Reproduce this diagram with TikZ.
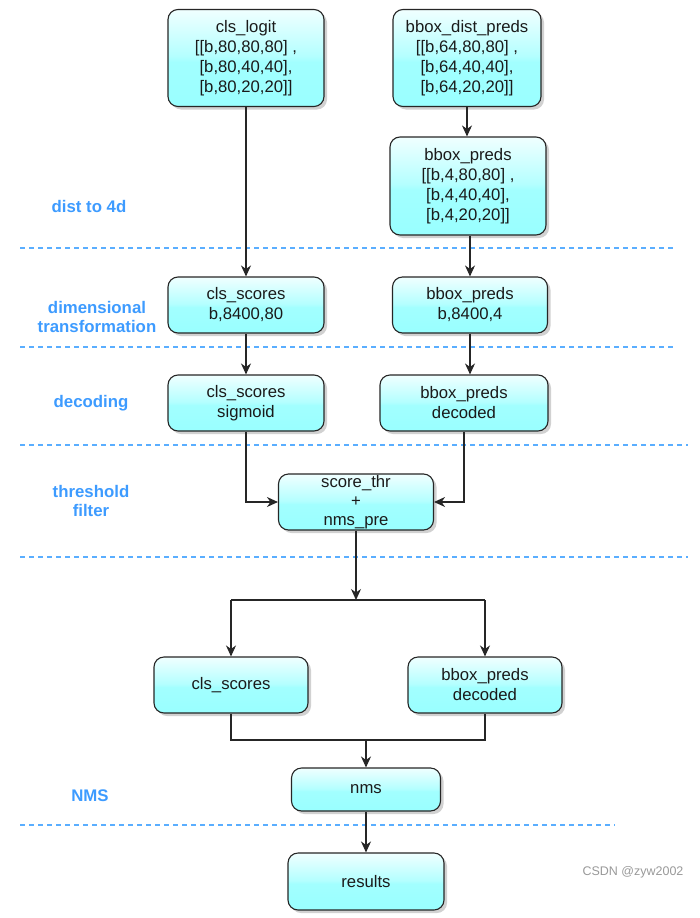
\documentclass[tikz,border=0pt]{standalone}
\usepackage{fontspec}
\setmainfont{Liberation Sans}
\usetikzlibrary{arrows.meta,shadows,positioning}
\definecolor{glT}{HTML}{F0FFFF}
\definecolor{glM}{HTML}{B4FFFF}
\definecolor{glB2}{HTML}{A2FFFF}
\definecolor{glB}{HTML}{99FFFF}
\definecolor{lblblue}{HTML}{3D9BFF}
\definecolor{dashblue}{HTML}{5AAEFF}
\definecolor{txtdark}{HTML}{1A1A1A}
\pgfdeclareverticalshading{glass}{100bp}{color(0bp)=(glB); color(25bp)=(glB); color(48bp)=(glB2); color(51bp)=(glM); color(75bp)=(glT); color(100bp)=(glT)}
\tikzset{
  box/.style={draw=black!85, line width=1.1pt, rounded corners=10pt, shading=glass,
    drop shadow={shadow xshift=3pt, shadow yshift=-3pt, opacity=0.3, fill=black!60},
    align=center, text=txtdark, font=\fontsize{16.7}{20}\selectfont, inner sep=2pt},
  lbl/.style={text=lblblue, font=\bfseries\fontsize{16.8}{19.5}\selectfont, align=center},
  sep/.style={dashblue, line width=1.2pt, dash pattern=on 5pt off 4pt},
  conn/.style={black!85, line width=1.1pt},
  arr/.style={conn, -{Stealth[length=11pt, width=10pt, inset=3.5pt]}},
}
\begin{document}
\begin{tikzpicture}[x=1pt, y=-1pt]
\useasboundingbox (0,0) rectangle (699,918);

% separators
\draw[sep] (20,248) -- (675,248);
\draw[sep] (20,347) -- (675,347);
\draw[sep] (20,445) -- (688,445);
\draw[sep] (20,557) -- (688,557);
\draw[sep] (20,825) -- (615,825);

% labels
\node[lbl] (l1) at (89,206) {dist to 4d};
\node[lbl] (l2) at (97,317) {dimensional\\transformation};
\node[lbl] (l3) at (91,403) {decoding};
\node[lbl] (l4) at (91,501) {threshold\\filter};
\node[lbl] (l5) at (90,796) {NMS};

% boxes
\node[box, minimum width=156pt, minimum height=97pt] (clslogit) at (246,58) {cls\_logit\\{}[[b,80,80,80] ,\\{}[b,80,40,40],\\{}[b,80,20,20]]};
\node[box, minimum width=148pt, minimum height=97pt] (dist) at (467,58) {bbox\_dist\_preds\\{}[[b,64,80,80] ,\\{}[b,64,40,40],\\{}[b,64,20,20]]};
\node[box, minimum width=156pt, minimum height=98pt] (p4) at (468,186) {bbox\_preds\\{}[[b,4,80,80] ,\\{}[b,4,40,40],\\{}[b,4,20,20]]};
\node[box, minimum width=156pt, minimum height=56pt] (cs1) at (246,305) {cls\_scores\\b,8400,80};
\node[box, minimum width=155pt, minimum height=56pt] (bp1) at (470,305) {bbox\_preds\\b,8400,4};
\node[box, minimum width=156pt, minimum height=56pt] (cs2) at (246,403) {cls\_scores\\sigmoid};
\node[box, minimum width=168pt, minimum height=56pt] (bp2) at (464,403) {bbox\_preds\\decoded};
\node[box, minimum width=155pt, minimum height=56pt, inner sep=0pt, font=\fontsize{16.7}{19}\selectfont] (thr) at (356,502) {score\_thr\\+\\nms\_pre};
\node[box, minimum width=154pt, minimum height=56pt] (cs3) at (231,685) {cls\_scores};
\node[box, minimum width=154pt, minimum height=56pt] (bp3) at (485,685) {bbox\_preds\\decoded};
\node[box, minimum width=149pt, minimum height=43pt] (nms) at (366,789.5) {nms};
\node[box, minimum width=156pt, minimum height=57pt] (res) at (366,881.5) {results};

% watermark
\node[text=black!40, font=\fontsize{12.5}{14}\selectfont] (wm) at (633,872) {CSDN @zyw2002};

% connectors
\draw[arr] (clslogit.south) -- (cs1.north);
\draw[arr] (dist.south) -- (dist.south |- p4.north);
\draw[arr] (bp1.north |- p4.south) -- (bp1.north);
\draw[arr] (cs1.south) -- (cs2.north);
\draw[arr] (bp1.south) -- (bp1.south |- bp2.north);
\draw[arr] (cs2.south) |- (thr.west);
\draw[arr] (bp2.south) |- (thr.east);

\coordinate (split) at (356,600);
\coordinate (splitL) at (231,600);
\coordinate (splitR) at (485,600);
\draw[arr] (thr.south) -- (split);
\draw[conn] (splitL) -- (splitR);
\draw[arr] (splitL) -- (cs3.north);
\draw[arr] (splitR) -- (bp3.north);

\coordinate (join) at (366,740);
\draw[conn] (cs3.south) |- (join) -| (bp3.south);
\draw[arr] (join) -- (nms.north);
\draw[arr] (nms.south) -- (res.north);
\end{tikzpicture}
\end{document}
